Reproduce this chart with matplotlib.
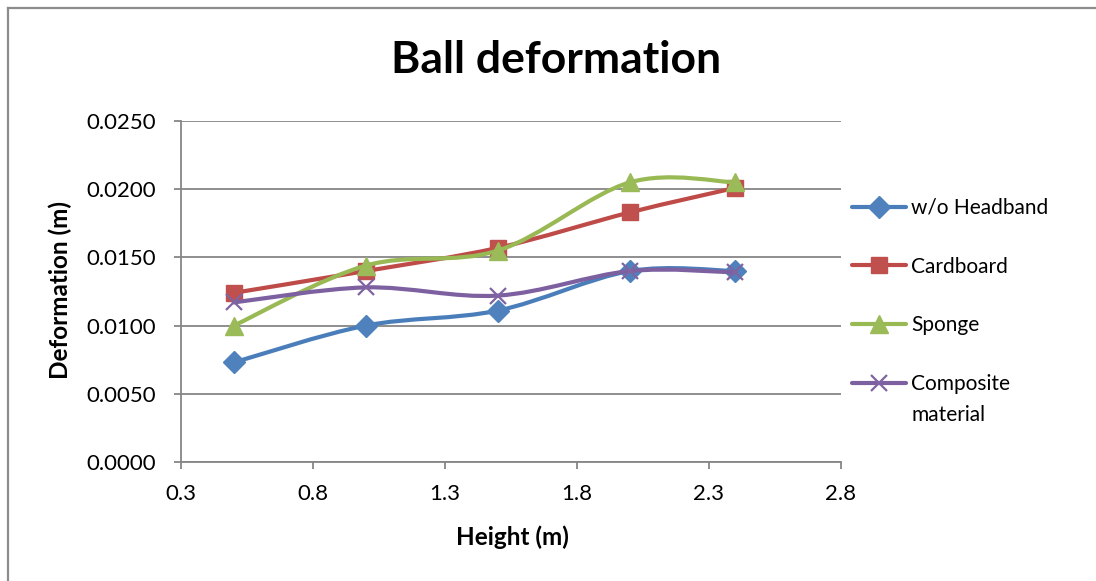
import numpy as np
import matplotlib
matplotlib.use("Agg")
import matplotlib.pyplot as plt
from matplotlib.path import Path
from matplotlib.patches import PathPatch
from matplotlib.lines import Line2D
from matplotlib.ticker import FormatStrFormatter

plt.rcParams['font.family'] = ['Lato', 'DejaVu Sans']

# drop heights (m)
height = [0.5, 1.0, 1.5, 2.0, 2.4]

# measured deformation (m) per headband type
no_headband = [0.0073, 0.0100, 0.0111, 0.0140, 0.0140]
cardboard = [0.0124, 0.0140, 0.0157, 0.0183, 0.0201]
sponge = [0.0100, 0.0144, 0.0155, 0.0205, 0.0205]
composite = [0.0117, 0.0128, 0.0122, 0.0140, 0.0139]

series_names = ["w/o Headband", "Cardboard", "Sponge", "Composite"]
series_values = [no_headband, cardboard, sponge, composite]

line_colors = ["#4A7EBB", "#BE4B48", "#98B954", "#7D60A0"]
marker_colors = ["#4F81BD", "#C0504D", "#9BBB59", "#8064A2"]
markers = ["D", "s", "^", "x"]
marker_sizes = [11, 12, 13, 12]


def smooth_path(xs, ys):
    # cubic bezier through the points, like the spreadsheet "smoothed line"
    pts = np.column_stack([xs, ys])
    n = len(pts)
    verts = [pts[0]]
    codes = [Path.MOVETO]
    for i in range(n - 1):
        p0 = pts[max(i - 1, 0)]
        p1 = pts[i]
        p2 = pts[i + 1]
        p3 = pts[min(i + 2, n - 1)]
        verts += [p1 + (p2 - p0) / 6, p2 - (p3 - p1) / 6, p2]
        codes += [Path.CURVE4] * 3
    return Path(verts, codes)


W, H = 1096, 581
fig = plt.figure(figsize=(W / 100, H / 100), dpi=100)
ax = fig.add_axes([181 / W, 1 - 462 / H, (841 - 181) / W, (462 - 121) / H])

handles = []
for i, (name, vals) in enumerate(zip(series_names, series_values)):
    ax.add_patch(PathPatch(smooth_path(height, vals), fill=False,
                           edgecolor=line_colors[i], lw=3, capstyle='round',
                           joinstyle='round', zorder=3 + 2 * i))
    mew = 1.6 if markers[i] == "x" else 1
    ax.plot(height, vals, linestyle='none', marker=markers[i],
            ms=marker_sizes[i], mfc=marker_colors[i], mec=marker_colors[i],
            mew=mew, zorder=4 + 2 * i)
    handles.append(Line2D([], [], color=line_colors[i], lw=3,
                          solid_capstyle='round', marker=markers[i],
                          ms=marker_sizes[i], mfc=marker_colors[i],
                          mec=marker_colors[i], mew=mew))

ax.set_xlim(0.3, 2.8)
ax.set_ylim(0, 0.025)
ax.set_xticks(np.arange(0.3, 2.81, 0.5))
ax.set_yticks(np.arange(0, 0.02501, 0.005))
ax.xaxis.set_major_formatter(FormatStrFormatter('%.1f'))
ax.yaxis.set_major_formatter(FormatStrFormatter('%.4f'))

grid_color = "#868686"
ax.grid(axis='y', color=grid_color, lw=1.3)
ax.set_axisbelow(True)
for side in ['top', 'right']:
    ax.spines[side].set_visible(False)
for side in ['left', 'bottom']:
    ax.spines[side].set_color(grid_color)
    ax.spines[side].set_linewidth(1.3)
ax.tick_params(axis='both', direction='out', length=5, width=1.3,
               color=grid_color, labelsize=16, labelcolor='black')
ax.tick_params(axis='y', pad=13)
ax.tick_params(axis='x', pad=11)

fig.text(556 / W, 1 - 60 / H, "Ball deformation", ha='center', va='center',
         fontsize=32, fontweight='bold')
fig.text(512 / W, 1 - 537 / H, "Height (m)", ha='center', va='center',
         fontsize=17.5, fontweight='bold')
fig.text(60 / W, 1 - 290 / H, "Deformation (m)", ha='center', va='center',
         rotation=90, fontsize=17.5, fontweight='bold')

leg = fig.legend(handles, series_names, loc='upper left',
                 bbox_to_anchor=(852 / W, 1 - 198 / H), frameon=False,
                 fontsize=15, handlelength=2.6, handletextpad=0.25,
                 labelspacing=1.86, borderpad=0, borderaxespad=0, numpoints=1)

# second line of the last legend entry
fig.canvas.draw()
bb = leg.get_texts()[3].get_window_extent()
fig.text(bb.x0 / W, (bb.y0 - 31) / H, "material", ha='left', va='bottom',
         fontsize=15)

# outer chart frame (left and top edges)
frame_kw = dict(transform=fig.transFigure, color="#8C8C8C", lw=1.6)
fig.add_artist(Line2D([8 / W, 8 / W], [0, 1 - 8 / H], **frame_kw))
fig.add_artist(Line2D([8 / W, 1], [1 - 8 / H, 1 - 8 / H], **frame_kw))

fig.savefig("out.png", dpi=100)
